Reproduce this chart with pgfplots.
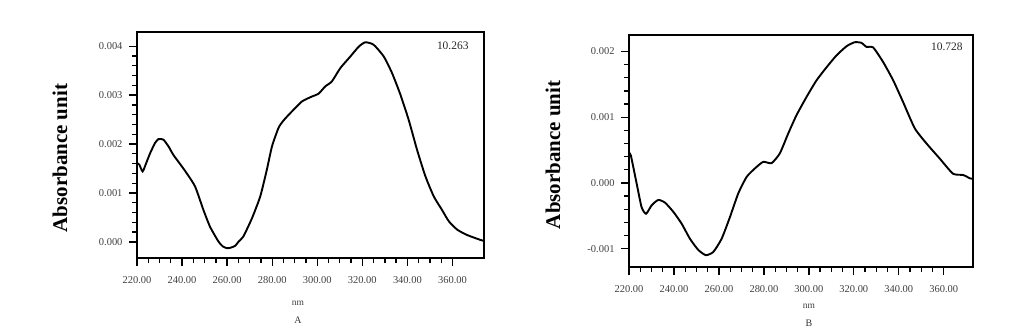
\documentclass[border=0pt]{standalone}
\usepackage{pgfplots}
\pgfplotsset{compat=1.18}
\usepackage{fontspec}
\setmainfont{Liberation Serif}
\begin{document}
\begin{tikzpicture}
\useasboundingbox (0,0) rectangle (1025bp,-334bp);
\pgfplotsset{
  spec/.style={
    scale only axis,
    axis line style={line width=2.8bp},
    tick align=outside,
    tick style={black, line width=1.3bp},
    major tick length=8bp,
    minor tick length=5bp,
    xtick pos=bottom, ytick pos=left,
    xmin=220,
    xtick={220,240,...,360},
    minor x tick num=3,
    minor y tick num=4,
    scaled y ticks=false,
    /pgf/number format/assume math mode=true,
    xticklabel={\pgfmathprintnumber[fixed,fixed zerofill,precision=2]{\tick}},
    yticklabel={\pgfmathprintnumber[fixed,fixed zerofill,precision=3]{\tick}},
    tick label style={font=\fontsize{10.5}{11}\selectfont, text=black!75},
    xticklabel style={yshift=-7bp},
    yticklabel style={xshift=-3bp},
    ylabel style={font=\fontsize{21}{22}\selectfont\bfseries, rotate=0},
    xlabel style={font=\fontsize{9.5}{10}\selectfont, text=black!75},
    clip=false,
  }
}
% Panel A
\begin{axis}[spec,
  at={(137bp,-258bp)}, anchor=south west,
  width=347bp, height=226bp,
  xmax=374, ymin=-0.00033, ymax=0.00429,
  ytick={0,0.001,0.002,0.003,0.004},
  xlabel={nm}, ylabel={Absorbance unit},
  xlabel style={at={(axis description cs:0.464,-0.199)}, anchor=center},
  ylabel style={at={(axis description cs:-0.222,0.442)}, anchor=center},
]
\addplot[black, line width=1.9bp, smooth, tension=0.35] coordinates {
(220,1.61e-3)(221,1.58e-3)(222.5,1.44e-3)(224,1.60e-3)(225.8,1.81e-3)(228,2.02e-3)
(229.5,2.10e-3)(231.7,2.09e-3)(234,1.95e-3)(236.1,1.78e-3)(239,1.60e-3)(242.1,1.40e-3)
(245.8,1.13e-3)(249.5,0.65e-3)(252.4,0.31e-3)(256.1,0.01e-3)(258,-0.09e-3)(259.9,-0.13e-3)
(261.5,-0.12e-3)(263.6,-0.08e-3)(265,0.00e-3)(267.2,0.11e-3)(271.0,0.48e-3)(274.7,0.93e-3)
(277.6,1.47e-3)(279.9,1.95e-3)(282.8,2.33e-3)(285,2.48e-3)(288,2.63e-3)(293.2,2.87e-3)
(297.6,2.97e-3)(300.6,3.03e-3)(303.6,3.18e-3)(306.5,3.28e-3)(310.2,3.55e-3)(314.7,3.79e-3)
(318.4,3.99e-3)(321.3,4.08e-3)(325,4.03e-3)(329.5,3.79e-3)(333.2,3.45e-3)(336.9,3.01e-3)
(340.6,2.49e-3)(344.3,1.88e-3)(348,1.34e-3)(351.7,0.93e-3)(355.4,0.65e-3)(358.4,0.42e-3)
(362.1,0.25e-3)(366.5,0.14e-3)(372.4,0.04e-3)(374,0.02e-3)
};
\node[font=\fontsize{11.5}{12}\selectfont, text=black!85] at (rel axis cs:0.91,0.938) {10.263};
\node[font=\fontsize{10}{11}\selectfont, text=black!80] at (axis description cs:0.464,-0.277) {A};
\end{axis}
% Panel B
\begin{axis}[spec,
  at={(629bp,-267bp)}, anchor=south west,
  width=344bp, height=232bp,
  xmax=373, ymin=-0.00128, ymax=0.00225,
  ytick={-0.001,0,0.001,0.002},
  xlabel={nm}, ylabel={Absorbance unit},
  xlabel style={at={(axis description cs:0.523,-0.171)}, anchor=center},
  ylabel style={at={(axis description cs:-0.221,0.483)}, anchor=center},
]
\addplot[black, line width=1.9bp, smooth, tension=0.35] coordinates {
(220,0.45e-3)(220.8,0.42e-3)(223.4,-0.01e-3)(225.6,-0.37e-3)(227.6,-0.47e-3)(230.1,-0.34e-3)
(233,-0.26e-3)(236,-0.30e-3)(239.7,-0.44e-3)(243.4,-0.62e-3)(247.1,-0.85e-3)(250.8,-1.02e-3)
(254.2,-1.10e-3)(257.5,-1.05e-3)(261.2,-0.85e-3)(264.9,-0.52e-3)(268.6,-0.16e-3)(272.3,0.09e-3)
(276,0.22e-3)(279.7,0.32e-3)(283.4,0.30e-3)(287.1,0.45e-3)(290.8,0.75e-3)(294.5,1.03e-3)
(299,1.31e-3)(303.4,1.56e-3)(307.9,1.76e-3)(312.3,1.94e-3)(316.8,2.08e-3)(320.4,2.14e-3)
(323.4,2.13e-3)(325.6,2.07e-3)(328.6,2.06e-3)(333,1.84e-3)(337.5,1.56e-3)(341.9,1.23e-3)
(347.1,0.83e-3)(352.3,0.60e-3)(358.2,0.37e-3)(364.1,0.14e-3)(368.6,0.12e-3)(371.6,0.07e-3)
(373,0.06e-3)
};
\node[font=\fontsize{11.5}{12}\selectfont, text=black!85] at (rel axis cs:0.924,0.948) {10.728};
\node[font=\fontsize{10}{11}\selectfont, text=black!80] at (axis description cs:0.523,-0.241) {B};
\end{axis}
\end{tikzpicture}
\end{document}
